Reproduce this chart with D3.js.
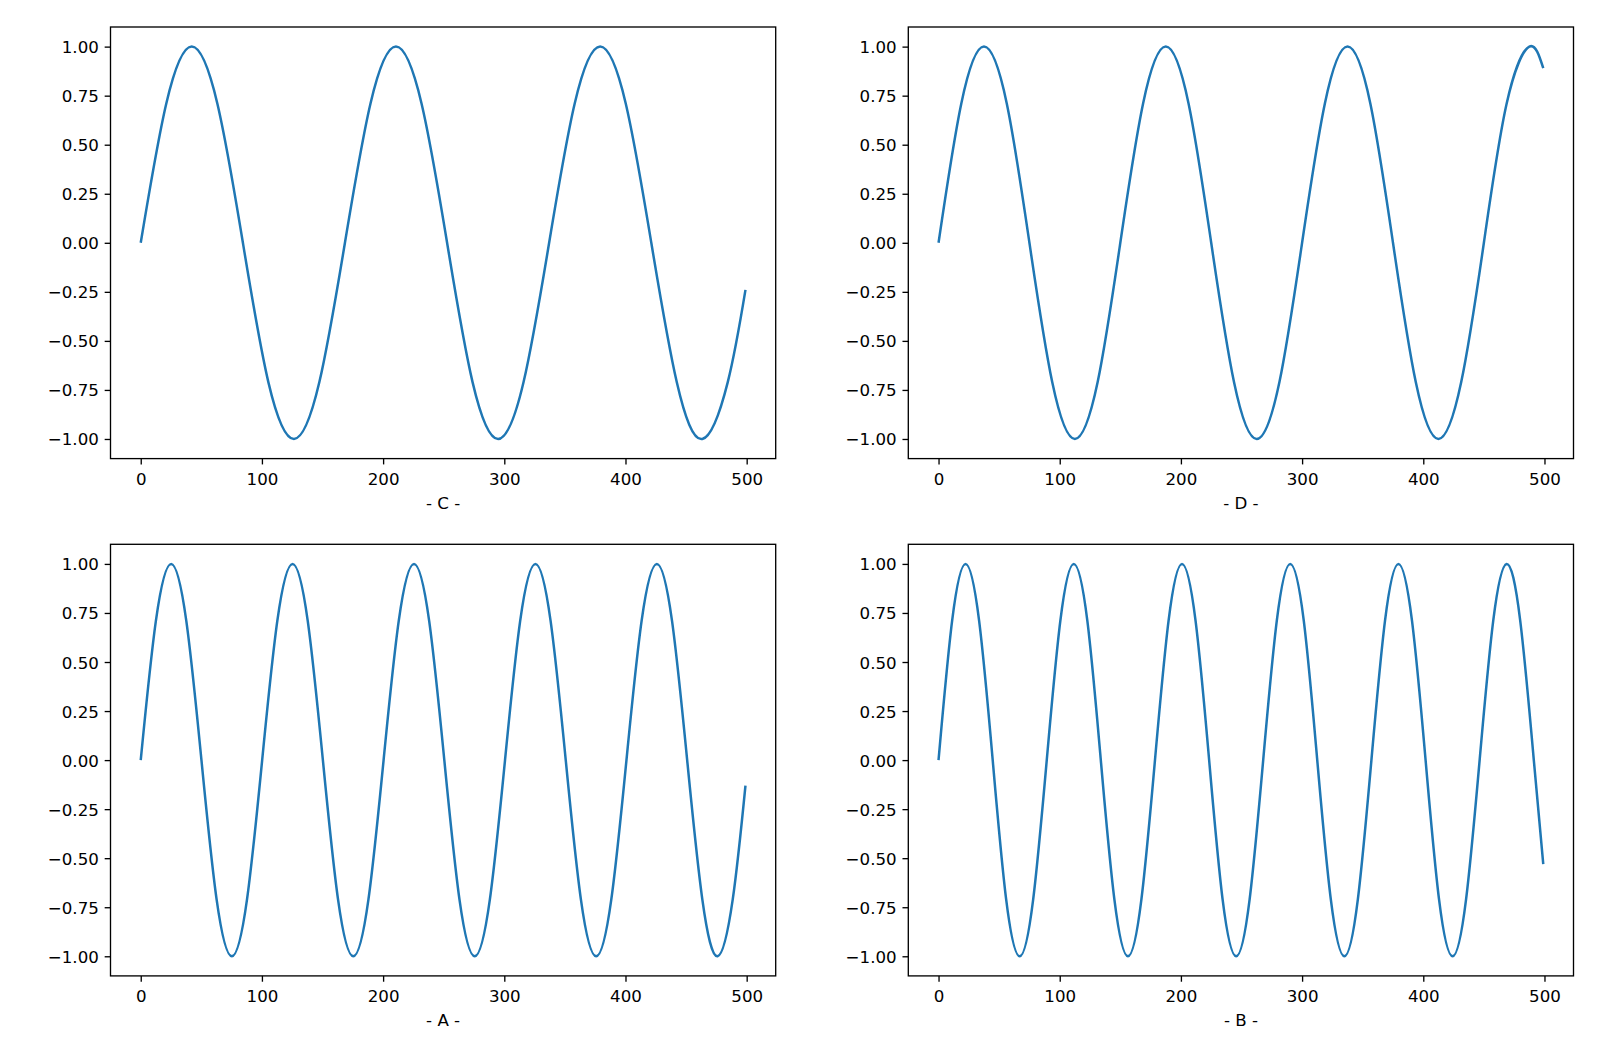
<!DOCTYPE html>
<html>
<head>
<meta charset="utf-8">
<script src="https://cdn.jsdelivr.net/npm/d3@7"></script>
<style>
  html, body { margin: 0; padding: 0; background: #ffffff; }
  svg { display: block; }
  text { font-family: "DejaVu Sans", sans-serif; fill: #000; }
</style>
</head>
<body>
<svg id="chart" width="1602" height="1060"></svg>
<script>
// ---- Data (zero crossings, ±0.71 points, peaks/troughs, end point) ----
const panelNames = ["- C -", "- D -", "- A -", "- B -"];

const xC = [0, 21.1, 42.1, 63.2, 84.3, 105.3, 126.4, 147.4, 168.5, 189.6, 210.6, 231.7, 252.8, 273.8, 294.9, 315.9, 337.0, 358.1, 379.1, 400.2, 421.3, 442.3, 463.4, 484.4, 499];
const yC = [0, 0.71, 1, 0.71, 0, -0.71, -1, -0.71, 0, 0.71, 1, 0.71, 0, -0.71, -1, -0.71, 0, 0.71, 1, 0.71, 0, -0.71, -1, -0.71, -0.24];

const xD = [0, 18.8, 37.5, 56.3, 75, 93.8, 112.5, 131.3, 150, 168.8, 187.5, 206.3, 225, 243.8, 262.5, 281.3, 300, 318.8, 337.5, 356.3, 375, 393.8, 412.5, 431.3, 450, 468.8, 487.5, 499];
const yD = [0, 0.71, 1, 0.71, 0, -0.71, -1, -0.71, 0, 0.71, 1, 0.71, 0, -0.71, -1, -0.71, 0, 0.71, 1, 0.71, 0, -0.71, -1, -0.71, 0, 0.71, 1, 0.89];

const xA = [0, 12.5, 25.1, 37.6, 50.1, 62.6, 75.2, 87.7, 100.2, 112.7, 125.3, 137.8, 150.3, 162.8, 175.4, 187.9, 200.4, 212.9, 225.5, 238.0, 250.5, 263.0, 275.6, 288.1, 300.6, 313.1, 325.7, 338.2, 350.7, 363.2, 375.8, 388.3, 400.8, 413.3, 425.9, 438.4, 450.9, 463.4, 476.0, 488.5, 499];
const yA = [0, 0.71, 1, 0.71, 0, -0.71, -1, -0.71, 0, 0.71, 1, 0.71, 0, -0.71, -1, -0.71, 0, 0.71, 1, 0.71, 0, -0.71, -1, -0.71, 0, 0.71, 1, 0.71, 0, -0.71, -1, -0.71, 0, 0.71, 1, 0.71, 0, -0.71, -1, -0.71, -0.13];

const xB = [0, 11.2, 22.3, 33.5, 44.7, 55.8, 67.0, 78.1, 89.3, 100.5, 111.6, 122.8, 133.9, 145.1, 156.3, 167.4, 178.6, 189.8, 200.9, 212.1, 223.3, 234.4, 245.6, 256.7, 267.9, 279.1, 290.2, 301.4, 312.5, 323.7, 334.9, 346.0, 357.2, 368.4, 379.5, 390.7, 401.9, 413.0, 424.2, 435.3, 446.5, 457.7, 468.8, 480.0, 491.2, 499];
const yB = [0, 0.71, 1, 0.71, 0, -0.71, -1, -0.71, 0, 0.71, 1, 0.71, 0, -0.71, -1, -0.71, 0, 0.71, 1, 0.71, 0, -0.71, -1, -0.71, 0, 0.71, 1, 0.71, 0, -0.71, -1, -0.71, 0, 0.71, 1, 0.71, 0, -0.71, -1, -0.71, 0, 0.71, 1, 0.71, 0, -0.53];

const xTicks = [0, 100, 200, 300, 400, 500];
const yTicks = [-1.00, -0.75, -0.50, -0.25, 0.00, 0.25, 0.50, 0.75, 1.00];

// ---- Layout ----
const svg = d3.select("#chart");
const colLeft = [110.5, 908.3];
const axW = 665.2;
const rowTop = [27, 544.3];
const axH = 431.6;
const fontPx = 16.67;
const tickLen = 5.83;
const tickPad = 5.83;
const spineW = 1.33;
const lineColor = "#1f77b4";

const series = [
  { name: panelNames[0], xs: xC, ys: yC, col: 0, row: 0 },
  { name: panelNames[1], xs: xD, ys: yD, col: 1, row: 0 },
  { name: panelNames[2], xs: xA, ys: yA, col: 0, row: 1 },
  { name: panelNames[3], xs: xB, ys: yB, col: 1, row: 1 }
];

series.forEach(s => {
  const left = colLeft[s.col], top = rowTop[s.row];
  const x = d3.scaleLinear().domain([-24.95, 523.95]).range([left, left + axW]);
  const y = d3.scaleLinear().domain([-1.1, 1.1]).range([top + axH, top]);
  const g = svg.append("g");

  const pts = s.xs.map((v, i) => [v, s.ys[i]]);
  const line = d3.line().x(d => x(d[0])).y(d => y(d[1])).curve(d3.curveNatural);

  const clipId = "clip" + s.col + s.row;
  svg.append("clipPath").attr("id", clipId)
    .append("rect").attr("x", left).attr("y", top).attr("width", axW).attr("height", axH);

  g.append("path")
    .datum(pts)
    .attr("d", line)
    .attr("fill", "none")
    .attr("stroke", lineColor)
    .attr("stroke-width", 2.5)
    .attr("stroke-linejoin", "round")
    .attr("stroke-linecap", "butt")
    .attr("clip-path", `url(#${clipId})`);

  // x axis
  const xAxis = d3.axisBottom(x).tickValues(xTicks).tickFormat(d3.format("d"))
    .tickSizeInner(tickLen).tickSizeOuter(0).tickPadding(tickPad);
  const gx = g.append("g").attr("transform", `translate(0,${top + axH})`).call(xAxis);
  gx.attr("font-size", null).attr("font-family", null);
  gx.select(".domain").remove();
  gx.selectAll(".tick line").attr("stroke", "#000").attr("stroke-width", spineW);
  gx.selectAll(".tick text")
    .style("font-size", fontPx + "px").style("font-family", "'DejaVu Sans'")
    .attr("y", 26.5).attr("dy", 0);

  // y axis
  const yAxis = d3.axisLeft(y).tickValues(yTicks).tickFormat(d3.format(".2f"))
    .tickSizeInner(tickLen).tickSizeOuter(0).tickPadding(tickPad);
  const gy = g.append("g").attr("transform", `translate(${left},0)`).call(yAxis);
  gy.attr("font-size", null).attr("font-family", null);
  gy.select(".domain").remove();
  gy.selectAll(".tick line").attr("stroke", "#000").attr("stroke-width", spineW);
  gy.selectAll(".tick text")
    .style("font-size", fontPx + "px").style("font-family", "'DejaVu Sans'")
    .attr("dy", "0.36em");

  // spines
  g.append("rect")
    .attr("x", left).attr("y", top).attr("width", axW).attr("height", axH)
    .attr("fill", "none").attr("stroke", "#000").attr("stroke-width", spineW);

  // x label
  g.append("text")
    .attr("x", left + axW / 2)
    .attr("y", top + axH + 50)
    .attr("text-anchor", "middle")
    .style("font-size", fontPx + "px")
    .text(s.name);
});
</script>
</body>
</html>
